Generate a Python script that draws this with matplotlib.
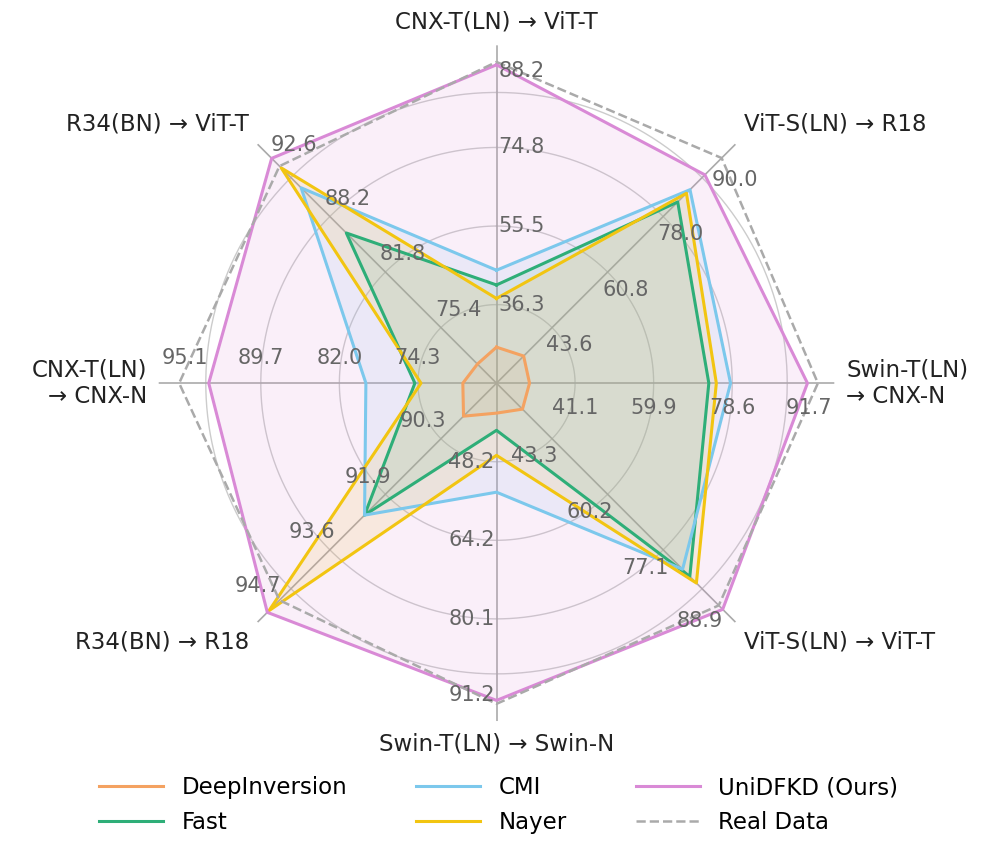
import matplotlib.pyplot as plt
import numpy as np

# axes clockwise from top
categories = ['CNX-T(LN) → ViT-T', 'ViT-S(LN) → R18', 'Swin-T(LN)\n→ CNX-N', 'ViT-S(LN) → ViT-T',
              'Swin-T(LN) → Swin-N', 'R34(BN) → R18', 'CNX-T(LN)\n→ CNX-N', 'R34(BN) → ViT-T']
axis_ticks = [
    [36.3, 55.5, 74.8, 88.2],
    [43.6, 60.8, 78.0, 90.0],
    [41.1, 59.9, 78.6, 91.7],
    [43.3, 60.2, 77.1, 88.9],
    [48.2, 64.2, 80.1, 91.2],
    [90.3, 91.9, 93.6, 94.7],
    [74.3, 82.0, 89.7, 95.1],
    [75.4, 81.8, 88.2, 92.6],
]
deepinv = [25.9, 34.8, 30.2, 34.3, 38.3, 89.65, 69.9, 71.2]
fast = [41.1, 82.5, 73.1, 85.2, 41.8, 92.5, 74.6, 86.3]
cmi = [44.7, 86.3, 78.3, 83.0, 54.4, 92.5, 79.4, 91.5]
nayer = [37.8, 85.2, 74.9, 87.2, 46.9, 95.25, 74.0, 93.8]
unidfkd = [94.9, 90.9, 96.7, 95.2, 96.8, 95.3, 94.8, 94.9]
real = [95.6, 96.1, 99.2, 94.0, 97.5, 94.95, 97.7, 94.0]

series = [
    ('DeepInversion', deepinv, '#F4A261'),
    ('Fast', fast, '#2EAE78'),
    ('CMI', cmi, '#7CC8EC'),
    ('Nayer', nayer, '#F2C511'),
    ('UniDFKD (Ours)', unidfkd, '#D98AD6'),
]

n = len(categories)
theta = np.arange(n) * 2 * np.pi / n


def to_r(vals):
    out = []
    for v, t in zip(vals, axis_ticks):
        step = t[1] - t[0]
        lo = t[0] - step
        out.append((v - lo) / step)
    return np.array(out)


rings = [1, 2, 3, 3.7]
rmax = 4.3

fig = plt.figure(figsize=(9.97, 8.63), dpi=100)
ax = fig.add_axes([0.159, 0.1645, 0.678, 0.783], projection='polar')
ax.set_theta_zero_location('N')
ax.set_theta_direction(-1)
ax.set_ylim(0, rmax)
ax.grid(False)
ax.set_xticks([])
ax.set_yticks([])
ax.spines['polar'].set_visible(False)

circ = np.linspace(0, 2 * np.pi, 400)
for r in rings:
    ax.plot(circ, np.full_like(circ, r), color='#cccccc', lw=1, zorder=1)
for th in theta:
    ax.plot([th, th], [0, rmax], color='#aaaaaa', lw=1.2, zorder=1)

th_closed = np.append(theta, theta[0])
for name, vals, col in series:
    r = to_r(vals)
    r = np.append(r, r[0])
    ax.fill(th_closed, r, color=col, alpha=0.13, zorder=2)
    ax.plot(th_closed, r, color=col, lw=2.2, label=name, zorder=3)
rr = to_r(real)
ax.plot(th_closed, np.append(rr, rr[0]), color='#aaaaaa', lw=1.8, ls='--',
        label='Real Data', zorder=3)

# tick labels per axis
for th, ticks in zip(theta, axis_ticks):
    perp = (np.cos(th) * 18, -np.sin(th) * 18)
    for k, t in enumerate(ticks):
        r = rings[k] if k < 3 else 3.97
        ax.annotate(f'{t:.1f}', xy=(th, r), xytext=perp, textcoords='offset points',
                    ha='center', va='center', fontsize=15, color='#666666', zorder=5)

for th, lab in zip(theta, categories):
    s, c = np.sin(th), np.cos(th)
    ha = 'center' if abs(s) < 0.1 else ('left' if s > 0 else 'right')
    va = 'center' if abs(c) < 0.1 else ('bottom' if c > 0 else 'top')
    ax.text(th, 4.45, lab, ha=ha, va=va, fontsize=16.5, color='#222222',
            multialignment='left' if s > 0.5 else 'center' if s > -0.5 else 'right')

handles, labels = ax.get_legend_handles_labels()
fig.legend(handles, labels,
           loc='lower center', bbox_to_anchor=(0.5, 0.01), ncol=3, frameon=False,
           fontsize=16.5, handlelength=2.8, columnspacing=3.0)

fig.savefig('out.png', dpi=100)
